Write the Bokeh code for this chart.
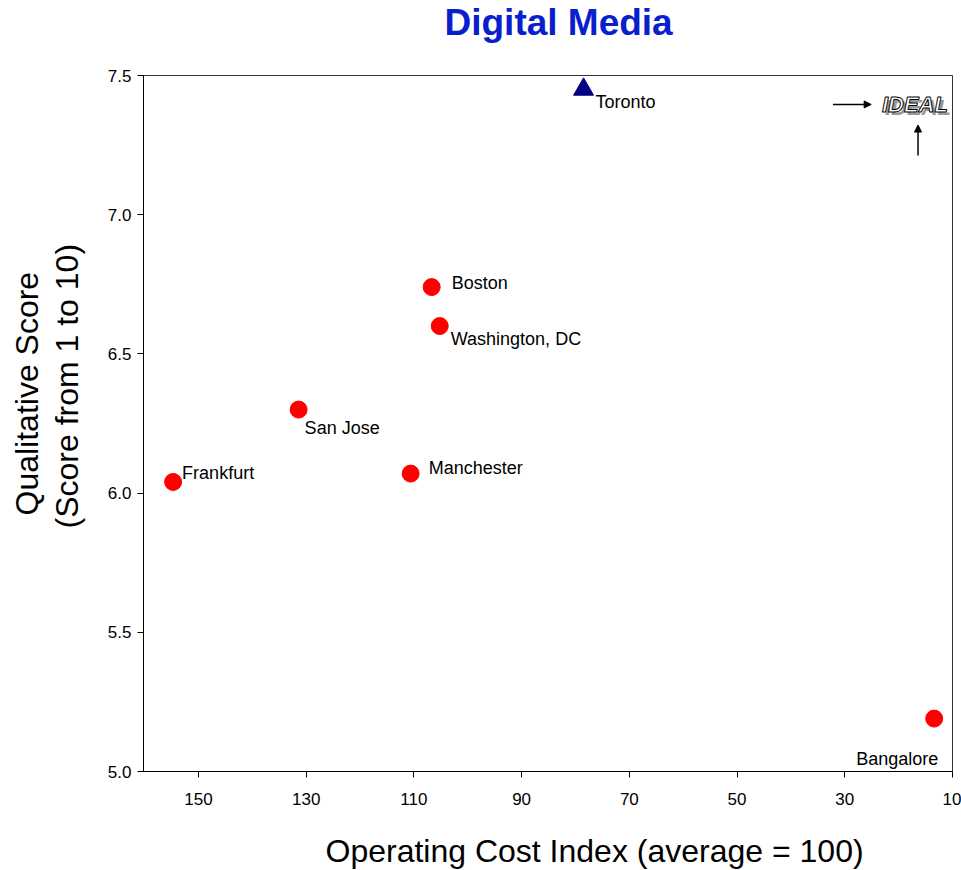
from bokeh.plotting import figure
from bokeh.models import (ColumnDataSource, Range1d, FixedTicker, PrintfTickFormatter,
                          Title, Arrow, NormalHead, Label)
from bokeh.core.properties import value
from bokeh.embed import file_html
from bokeh.resources import INLINE

# ---- data ----
cities = ["Boston", "Washington, DC", "San Jose", "Manchester", "Frankfurt", "Bangalore"]
cost_index = [106.7, 105.2, 131.4, 110.6, 154.7, 13.4]
qual_score = [6.74, 6.60, 6.30, 6.07, 6.04, 5.19]

toronto_city = ["Toronto"]
toronto_cost = [78.5]
toronto_score = [7.45]

x_ticks = [150, 130, 110, 90, 70, 50, 30, 10]
y_ticks = [5.0, 5.5, 6.0, 6.5, 7.0, 7.5]

# label offsets (style, pixels)
lbl_dx = [20, 11, 6, 18, 9, -78]
lbl_dy = [-4, 13, 18, -6, -9, 40]

FONT = "Liberation Sans"

p = figure(width=961, height=870, output_backend="svg", toolbar_location=None,
           x_range=Range1d(160.2, 10), y_range=Range1d(5.0, 7.5),
           min_border_left=143, min_border_right=9, min_border_top=75, min_border_bottom=99)

# title: a blank second line enlarges its panel so the text sits near the top edge
p.title.text = "Digital Media\n "
p.title.align = "left"
p.title.vertical_align = "top"
p.title.offset = 301
p.title.standoff = 0.5
p.title.text_line_height = 0.75
p.title.text_font = FONT
p.title.text_font_size = "37px"
p.title.text_font_style = "bold"
p.title.text_color = "#0A1FCC"

p.xgrid.visible = False
p.ygrid.visible = False
p.outline_line_color = "#333333"
p.outline_line_width = 1

for ax in (p.xaxis[0], p.yaxis[0]):
    ax.axis_line_color = "black"
    ax.major_tick_line_color = "black"
    ax.minor_tick_line_color = None
    ax.major_tick_out = 6
    ax.major_tick_in = 0
    ax.major_label_text_font = FONT
    ax.major_label_text_font_size = "17px"
    ax.major_label_text_color = "black"

p.xaxis.ticker = FixedTicker(ticks=x_ticks)
p.yaxis.ticker = FixedTicker(ticks=y_ticks)
p.yaxis.formatter = PrintfTickFormatter(format="%.1f")
p.xaxis.major_label_standoff = 15
p.yaxis.major_label_standoff = 6

xlab = Title(text=" \nOperating Cost Index (average = 100)", align="left", offset=182,
             vertical_align="bottom", text_line_height=0.714,
             text_font=FONT, text_font_size="32px", text_font_style="normal",
             text_color="black", standoff=-4)
p.add_layout(xlab, "below")

ylab2 = Title(text="(Score from 1 to 10)", align="left", offset=243,
              text_font=FONT, text_font_size="32px", text_font_style="normal",
              text_color="black", standoff=40)
p.add_layout(ylab2, "left")
ylab1 = Title(text="Qualitative Score", align="left", offset=256,
              text_font=FONT, text_font_size="32px", text_font_style="normal",
              text_color="black", standoff=-36)
p.add_layout(ylab1, "left")

src = ColumnDataSource(dict(x=cost_index, y=qual_score, city=cities, dx=lbl_dx, dy=lbl_dy))
p.scatter("x", "y", source=src, marker="circle", size=17, fill_color="#FF0000", line_color="#FF0000")
p.text("x", "y", text="city", source=src, x_offset="dx", y_offset="dy",
       text_font=value(FONT), text_font_size="18px", text_baseline="middle",
       text_align="left", text_color="black")

tsrc = ColumnDataSource(dict(x=toronto_cost, y=toronto_score, city=toronto_city))
p.scatter("x", "y", source=tsrc, marker="triangle", size=20, fill_color="#000080", line_color="#000080")
p.text("x", "y", text="city", source=tsrc, x_offset=12, y_offset=13,
       text_font=value(FONT), text_font_size="18px", text_baseline="middle",
       text_align="left", text_color="black")

# IDEAL marker
p.add_layout(Arrow(end=NormalHead(size=7, fill_color="black", line_color="black"),
                   x_start=32.2, y_start=7.396, x_end=25.1, y_end=7.396,
                   line_color="black", line_width=1.5))
p.add_layout(Arrow(end=NormalHead(size=7, fill_color="black", line_color="black"),
                   x_start=16.4, y_start=7.213, x_end=16.4, y_end=7.322,
                   line_color="black", line_width=1.5))
p.add_layout(Label(x=23.1, y=7.396, text="IDEAL", x_offset=3, y_offset=-3,
                   text_font=FONT, text_font_size="22px", text_font_style="bold italic",
                   text_color="#999999", text_baseline="middle"))
p.add_layout(Label(x=23.1, y=7.396, text="IDEAL",
                   text_font=FONT, text_font_size="22px", text_font_style="bold italic",
                   text_color="white", text_outline_color="black", text_baseline="middle"))

open("out.html", "w").write(file_html(p, INLINE))
